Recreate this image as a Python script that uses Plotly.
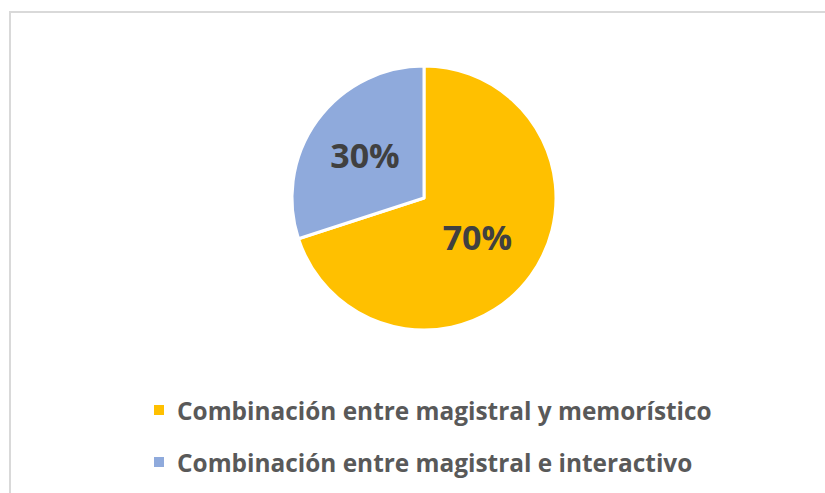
import plotly.graph_objects as go

labels = ["Combinación entre magistral y memorístico", "Combinación entre magistral e interactivo"]
values = [70, 30]
colors = ["#FFC000", "#8FAADC"]

W, H = 825, 493


def px(x):
    return x / W


def py(y):
    return 1 - y / H


# pie: centre (424, 198), radius 132 (screen pixels)
cx, cy, r = 424, 198, 132

fig = go.Figure()
fig.add_trace(go.Pie(
    labels=labels, values=values,
    marker=dict(colors=colors, line=dict(color="#FFFFFF", width=3)),
    sort=False, direction="clockwise", rotation=0,
    textinfo="percent", textposition="inside",
    insidetextorientation="horizontal",
    textfont=dict(family="Open Sans", size=34, color="#404040", weight="bold"),
    domain=dict(x=[px(cx - r), px(cx + r)], y=[py(cy + r), py(cy - r)]),
    showlegend=False, hoverinfo="label+percent",
))

# legend drawn as annotations + square markers
legend_y = [410, 462]
shapes = [dict(type="rect", xref="paper", yref="paper",
               x0=px(10), x1=px(840), y0=py(12), y1=py(520),
               line=dict(color="#D9D9D9", width=2), fillcolor="rgba(0,0,0,0)")]
annotations = []
for lab, col, yy in zip(labels, colors, legend_y):
    shapes.append(dict(type="rect", xref="paper", yref="paper",
                       x0=px(154), x1=px(164), y0=py(yy - 5), y1=py(yy + 5),
                       line=dict(width=0), fillcolor=col))
    annotations.append(dict(text=lab, xref="paper", yref="paper",
                            x=px(175), y=py(yy), xanchor="left", yanchor="middle",
                            showarrow=False,
                            font=dict(family="Open Sans", size=24.4, color="#595959", weight="bold")))

fig.update_layout(
    width=W, height=H,
    margin=dict(l=0, r=0, t=0, b=0),
    paper_bgcolor="#FFFFFF", plot_bgcolor="#FFFFFF",
    shapes=shapes, annotations=annotations,
)

fig.write_html("out.html", config={"displayModeBar": False},
               post_script="document.body.style.margin='0';")
